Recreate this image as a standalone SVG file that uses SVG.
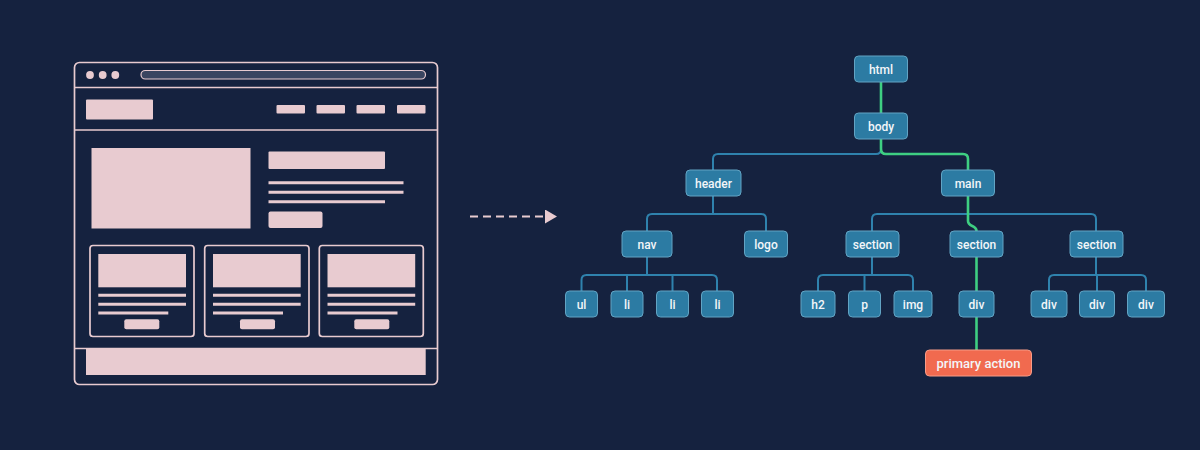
<svg xmlns="http://www.w3.org/2000/svg" width="1200" height="450" viewBox="0 0 1200 450">
  <defs>
    <style>
      .pk { fill: #e8cbd0; }
      .pks { fill: none; stroke: #e8cbd0; stroke-width: 1.7; }
      .bar { stroke: #e8cbd0; stroke-width: 3; stroke-linecap: butt; }
      .node rect { fill: #2c7ba3; stroke: #62a4c4; stroke-width: 1; }
      .node text { fill: #f3f6f9; font-family: Roboto, "Liberation Sans", Arial, sans-serif; font-size: 12px; font-weight: 500; text-anchor: middle; }
      .hl rect { fill: #f16a4f; stroke: #f79c88; }
      .hl text { font-size: 13px; }
      .edge { fill: none; stroke: #2f82ad; stroke-width: 2; }
      .path { fill: none; stroke: #3ecf82; stroke-width: 2.6; }
    </style>
    <marker id="tri" viewBox="0 0 12 14" refX="0" refY="7" markerWidth="12" markerHeight="14" markerUnits="userSpaceOnUse" orient="auto">
      <path d="M0,0 L12,7 L0,14 Z" fill="#e8cbd0"/>
    </marker>
  </defs>

  <rect width="1200" height="450" fill="#15223f"/>

  <!-- Browser wireframe -->
  <g id="wireframe">
    <rect class="pks" x="74.5" y="62.5" width="363" height="322" rx="5"/>
    <circle class="pk" cx="90" cy="75" r="3.9"/>
    <circle class="pk" cx="102.7" cy="75" r="3.9"/>
    <circle class="pk" cx="115.3" cy="75" r="3.9"/>
    <rect x="141" y="70.5" width="284.5" height="8.5" rx="4.25" fill="#3a4560" stroke="#e8cbd0" stroke-width="1.2"/>
    <line class="pks" x1="74.5" y1="87.5" x2="437.5" y2="87.5"/>
    <!-- header bar -->
    <rect class="pk" x="86" y="99.5" width="67" height="20" rx="1"/>
    <rect class="pk" x="276.5" y="105" width="28.5" height="8.5" rx="1"/>
    <rect class="pk" x="316.5" y="105" width="28.5" height="8.5" rx="1"/>
    <rect class="pk" x="356.5" y="105" width="28.5" height="8.5" rx="1"/>
    <rect class="pk" x="397" y="105" width="28.5" height="8.5" rx="1"/>
    <line class="pks" x1="74.5" y1="130" x2="437.5" y2="130"/>
    <!-- hero -->
    <rect class="pk" x="91.5" y="148" width="159" height="80.5"/>
    <rect class="pk" x="268.5" y="151.5" width="116.5" height="17.5" rx="1"/>
    <line class="bar" x1="268.5" y1="182.7" x2="403.5" y2="182.7"/>
    <line class="bar" x1="268.5" y1="192.3" x2="403.5" y2="192.3"/>
    <line class="bar" x1="268.5" y1="201.7" x2="385" y2="201.7"/>
    <rect class="pk" x="268.5" y="211.5" width="54" height="16.5" rx="2"/>
    <!-- cards -->
    <g>
      <rect class="pks" x="90" y="245.5" width="104" height="91" rx="3"/>
      <rect class="pk" x="98.3" y="254" width="87.7" height="33.3"/>
      <line class="bar" x1="98.3" y1="295.3" x2="186" y2="295.3"/>
      <line class="bar" x1="98.3" y1="304.3" x2="186" y2="304.3"/>
      <line class="bar" x1="98.3" y1="313" x2="168.3" y2="313"/>
      <rect class="pk" x="124.3" y="319.3" width="35" height="10" rx="2"/>
    </g>
    <g>
      <rect class="pks" x="204.7" y="245.5" width="104.3" height="91" rx="3"/>
      <rect class="pk" x="213" y="254" width="87.7" height="33.3"/>
      <line class="bar" x1="213" y1="295.3" x2="300.7" y2="295.3"/>
      <line class="bar" x1="213" y1="304.3" x2="300.7" y2="304.3"/>
      <line class="bar" x1="213" y1="313" x2="283" y2="313"/>
      <rect class="pk" x="240" y="319.3" width="35" height="10" rx="2"/>
    </g>
    <g>
      <rect class="pks" x="319.3" y="245.5" width="104" height="91" rx="3"/>
      <rect class="pk" x="327.5" y="254" width="87.7" height="33.3"/>
      <line class="bar" x1="327.5" y1="295.3" x2="415.2" y2="295.3"/>
      <line class="bar" x1="327.5" y1="304.3" x2="415.2" y2="304.3"/>
      <line class="bar" x1="327.5" y1="313" x2="397.5" y2="313"/>
      <rect class="pk" x="354.3" y="319.3" width="35" height="10" rx="2"/>
    </g>
    <!-- footer -->
    <line class="pks" x1="74.5" y1="348.5" x2="437.5" y2="348.5"/>
    <rect class="pk" x="86" y="349" width="339.7" height="26"/>
  </g>

  <!-- Transform arrow -->
  <g id="arrow">
    <line x1="470" y1="216.5" x2="545" y2="216.5" stroke="#e8cbd0" stroke-width="2.2" stroke-dasharray="8,5" marker-end="url(#tri)"/>
  </g>

  <!-- Tree connectors -->
  <g id="connectors">
    <path class="edge" d="M881,139 V149 Q881,154 876,154 H718 Q713,154 713,159 V170"/>
    <path class="edge" d="M713,196 V214 M647,231 V219 Q647,214 652,214 H761 Q766,214 766,219 V231"/>
    <path class="edge" d="M872,231 V219 Q872,214 877,214 H1091 Q1096,214 1096,219 V231"/>
    <path class="edge" d="M647,257 V275 M581.5,291 V280 Q581.5,275 586.5,275 H712 Q717,275 717,280 V291 M627,275 V291 M672.5,275 V291"/>
    <path class="edge" d="M872,257 V275 M818,291 V280 Q818,275 823,275 H908 Q913,275 913,280 V291 M864.5,275 V291"/>
    <path class="edge" d="M1096,257 V275 M1049,291 V280 Q1049,275 1054,275 H1141 Q1146,275 1146,280 V291 M1097,275 V291"/>
    <path class="path" d="M881,82 V113"/>
    <path class="path" d="M881,139 V149 Q881,154 886,154 H963 Q968,154 968,159 V170"/>
    <path class="path" d="M968,196 V221 C968,227 976.5,225 976.5,231"/>
    <path class="path" d="M976.5,257 V291"/>
    <path class="path" d="M976.5,317 V350"/>
  </g>

  <!-- Tree nodes -->
  <g id="n-html" class="node"><rect x="854.5" y="56" width="53" height="26" rx="4"/><text x="881" y="73.5">html</text></g>
  <g id="n-body" class="node"><rect x="854.5" y="113" width="53" height="26" rx="4"/><text x="881" y="130.5">body</text></g>
  <g id="n-header" class="node"><rect x="686" y="170" width="55" height="26" rx="4"/><text x="713.5" y="187.5">header</text></g>
  <g id="n-main" class="node"><rect x="941.5" y="170" width="53" height="26" rx="4"/><text x="968" y="187.5">main</text></g>
  <g id="n-nav" class="node"><rect x="622" y="231" width="50" height="26" rx="4"/><text x="647" y="248.5">nav</text></g>
  <g id="n-logo" class="node"><rect x="744.5" y="231" width="43" height="26" rx="4"/><text x="766" y="248.5">logo</text></g>
  <g id="n-section1" class="node"><rect x="846" y="231" width="53" height="26" rx="4"/><text x="872.5" y="248.5">section</text></g>
  <g id="n-section2" class="node"><rect x="950" y="231" width="53" height="26" rx="4"/><text x="976.5" y="248.5">section</text></g>
  <g id="n-section3" class="node"><rect x="1070" y="231" width="53" height="26" rx="4"/><text x="1096.5" y="248.5">section</text></g>
  <g id="n-ul" class="node"><rect x="565.5" y="291" width="32" height="26" rx="4"/><text x="581.5" y="308.5">ul</text></g>
  <g id="n-li1" class="node"><rect x="611" y="291" width="32" height="26" rx="4"/><text x="627" y="308.5">li</text></g>
  <g id="n-li2" class="node"><rect x="656.5" y="291" width="32" height="26" rx="4"/><text x="672.5" y="308.5">li</text></g>
  <g id="n-li3" class="node"><rect x="701.5" y="291" width="32" height="26" rx="4"/><text x="717.5" y="308.5">li</text></g>
  <g id="n-h2" class="node"><rect x="801" y="291" width="34" height="26" rx="4"/><text x="818" y="308.5">h2</text></g>
  <g id="n-p" class="node"><rect x="848.5" y="291" width="32" height="26" rx="4"/><text x="864.5" y="308.5">p</text></g>
  <g id="n-img" class="node"><rect x="894" y="291" width="38" height="26" rx="4"/><text x="913" y="308.5">img</text></g>
  <g id="n-div" class="node"><rect x="959" y="291" width="35" height="26" rx="4"/><text x="976.5" y="308.5">div</text></g>
  <g id="n-div-a" class="node"><rect x="1031" y="291" width="36" height="26" rx="4"/><text x="1049" y="308.5">div</text></g>
  <g id="n-div-b" class="node"><rect x="1079.5" y="291" width="35" height="26" rx="4"/><text x="1097" y="308.5">div</text></g>
  <g id="n-div-c" class="node"><rect x="1127.5" y="291" width="37" height="26" rx="4"/><text x="1146" y="308.5">div</text></g>
  <g id="n-primary" class="node hl"><rect x="925.5" y="350" width="106" height="26" rx="4"/><text x="978.5" y="367.5">primary action</text></g>
</svg>
